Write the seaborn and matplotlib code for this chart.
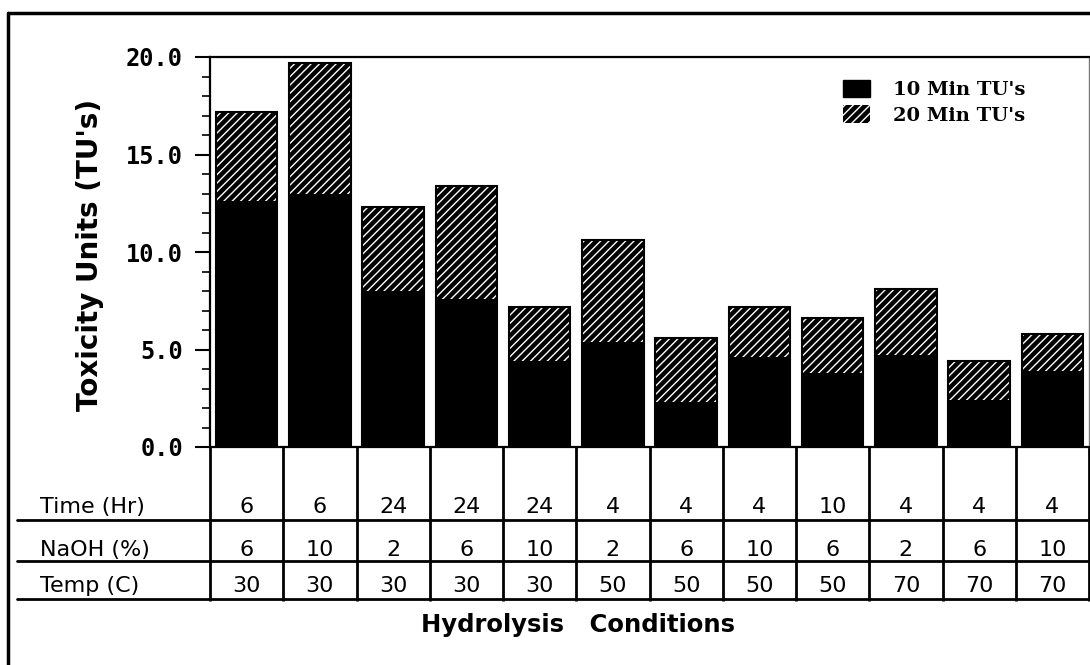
import matplotlib
matplotlib.use("Agg")
import matplotlib.pyplot as plt
import matplotlib.patches as mpatches
import matplotlib.transforms as mtransforms
from matplotlib.lines import Line2D
from matplotlib.ticker import MultipleLocator, FormatStrFormatter
import seaborn as sns
import pandas as pd

# Hydrolysis conditions for each run
time_hr = [6, 6, 24, 24, 24, 4, 4, 4, 10, 4, 4, 4]
naoh_pct = [6, 10, 2, 6, 10, 2, 6, 10, 6, 2, 6, 10]
temp_c = [30, 30, 30, 30, 30, 50, 50, 50, 50, 70, 70, 70]

# Toxicity units measured after 10 and 20 minutes
tu_10min = [12.6, 13.0, 8.0, 7.6, 4.4, 5.4, 2.3, 4.6, 3.8, 4.7, 2.4, 3.9]
tu_20min = [17.2, 19.7, 12.3, 13.4, 7.2, 10.6, 5.6, 7.2, 6.6, 8.1, 4.4, 5.8]

row_labels = ["Time (Hr)", "NaOH (%)", "Temp (C)"]
series_labels = ["10 Min TU's", "20 Min TU's"]
y_title = "Toxicity Units (TU's)"
x_title = "Hydrolysis   Conditions"

conditions = [f"{t}/{n}/{c}" for t, n, c in zip(time_hr, naoh_pct, temp_c)]
df = pd.DataFrame({"condition": conditions, "tu10": tu_10min, "tu20": tu_20min})

sns.set_style("white")
plt.rcParams["font.family"] = ["DejaVu Sans"]
plt.rcParams["text.color"] = "black"
plt.rcParams["ytick.color"] = "black"
plt.rcParams["ytick.labelcolor"] = "black"
plt.rcParams["hatch.linewidth"] = 1.0

W, H = 1090, 665
fig = plt.figure(figsize=(W / 100, H / 100), dpi=100)


def fy(p):
    return 1 - p / H


ax_l, ax_r, ax_t, ax_b = 210, 1089, 57, 447
ax = fig.add_axes([ax_l / W, fy(ax_b), (ax_r - ax_l) / W, (ax_b - ax_t) / H])

bar_w = 0.84
hatch = "////"
# 20-minute bars: black with white diagonal hatching
sns.barplot(data=df, x="condition", y="tu20", order=conditions, color="black",
            saturation=1, edgecolor="white", linewidth=0, hatch=hatch,
            width=bar_w, errorbar=None, ax=ax, zorder=2)
# outline of the 20-minute bars
sns.barplot(data=df, x="condition", y="tu20", order=conditions, color="black",
            saturation=1, fill=False, linewidth=1.5,
            width=bar_w, errorbar=None, ax=ax, zorder=3)
# 10-minute bars: solid black
sns.barplot(data=df, x="condition", y="tu10", order=conditions, color="black",
            saturation=1, linewidth=0,
            width=bar_w, errorbar=None, ax=ax, zorder=4)

ax.set_xlim(-0.5, len(conditions) - 0.5)
ax.set_ylim(0, 20)
ax.set_xticks([])
ax.set_xlabel("")
ax.set_ylabel("")
ax.yaxis.set_major_locator(MultipleLocator(5))
ax.yaxis.set_minor_locator(MultipleLocator(1))
ax.yaxis.set_major_formatter(FormatStrFormatter("%.1f"))
ax.tick_params(axis="y", which="major", direction="out", left=True,
               length=10.8, width=1.5, pad=8.6, labelsize=17,
               color="black", labelcolor="black")
ax.tick_params(axis="y", which="minor", direction="out", left=True,
               length=5.8, width=1.2, color="black")
for lab in ax.get_yticklabels():
    lab.set_fontfamily("DejaVu Sans Mono")
    lab.set_fontweight("bold")
for side in ["left", "bottom", "top"]:
    ax.spines[side].set_color("black")
    ax.spines[side].set_linewidth(1.6)
ax.spines["right"].set_color("#777777")
ax.spines["right"].set_linewidth(1.0)

# condition table under the bars
trans = mtransforms.blended_transform_factory(ax.transData, fig.transFigure)
baselines = [513, 556, 592]
rules = [520, 561, 599]
for r, (label, values) in enumerate(zip(row_labels, [time_hr, naoh_pct, temp_c])):
    fig.text(40 / W, fy(baselines[r]), label, ha="left", va="baseline",
             fontsize=16, color="black")
    for i, v in enumerate(values):
        ax.text(i, fy(baselines[r]), str(v), transform=trans, ha="center",
                va="baseline", fontsize=16, color="black")
    fig.add_artist(Line2D([17 / W, 1], [fy(rules[r])] * 2, transform=fig.transFigure,
                          color="black", lw=2))
for k in range(len(conditions) + 1):
    ax.plot([k - 0.5, k - 0.5], [fy(ax_b), fy(601)], transform=trans,
            color="black", lw=2, clip_on=False, solid_capstyle="butt")

fig.text(578 / W, fy(625), x_title, ha="center", va="center",
         fontsize=17.5, fontweight="bold", color="black")
fig.text(90 / W, fy(255), y_title, rotation=90, ha="center", va="center",
         fontsize=20, fontweight="bold", color="black")

handles = [
    mpatches.Patch(facecolor="black", edgecolor="black"),
    mpatches.Patch(facecolor="black", edgecolor="white", hatch=hatch, lw=0),
]
leg = fig.legend(handles, series_labels, loc="upper left",
                 bbox_to_anchor=(843 / W, fy(80)),
                 frameon=False, borderpad=0, borderaxespad=0, handlelength=1.4,
                 handleheight=1.0, handletextpad=1.15, labelspacing=0.3,
                 prop={"family": "DejaVu Serif", "weight": "bold", "size": 14})
for t in leg.get_texts():
    t.set_color("black")

# outer frame
fig.add_artist(Line2D([8 / W, 8 / W], [0, fy(13)], transform=fig.transFigure,
                      color="black", lw=2.5))
fig.add_artist(Line2D([8 / W, 1], [fy(13)] * 2, transform=fig.transFigure,
                      color="black", lw=2.5))

fig.savefig("out.png", dpi=100, facecolor="white")
